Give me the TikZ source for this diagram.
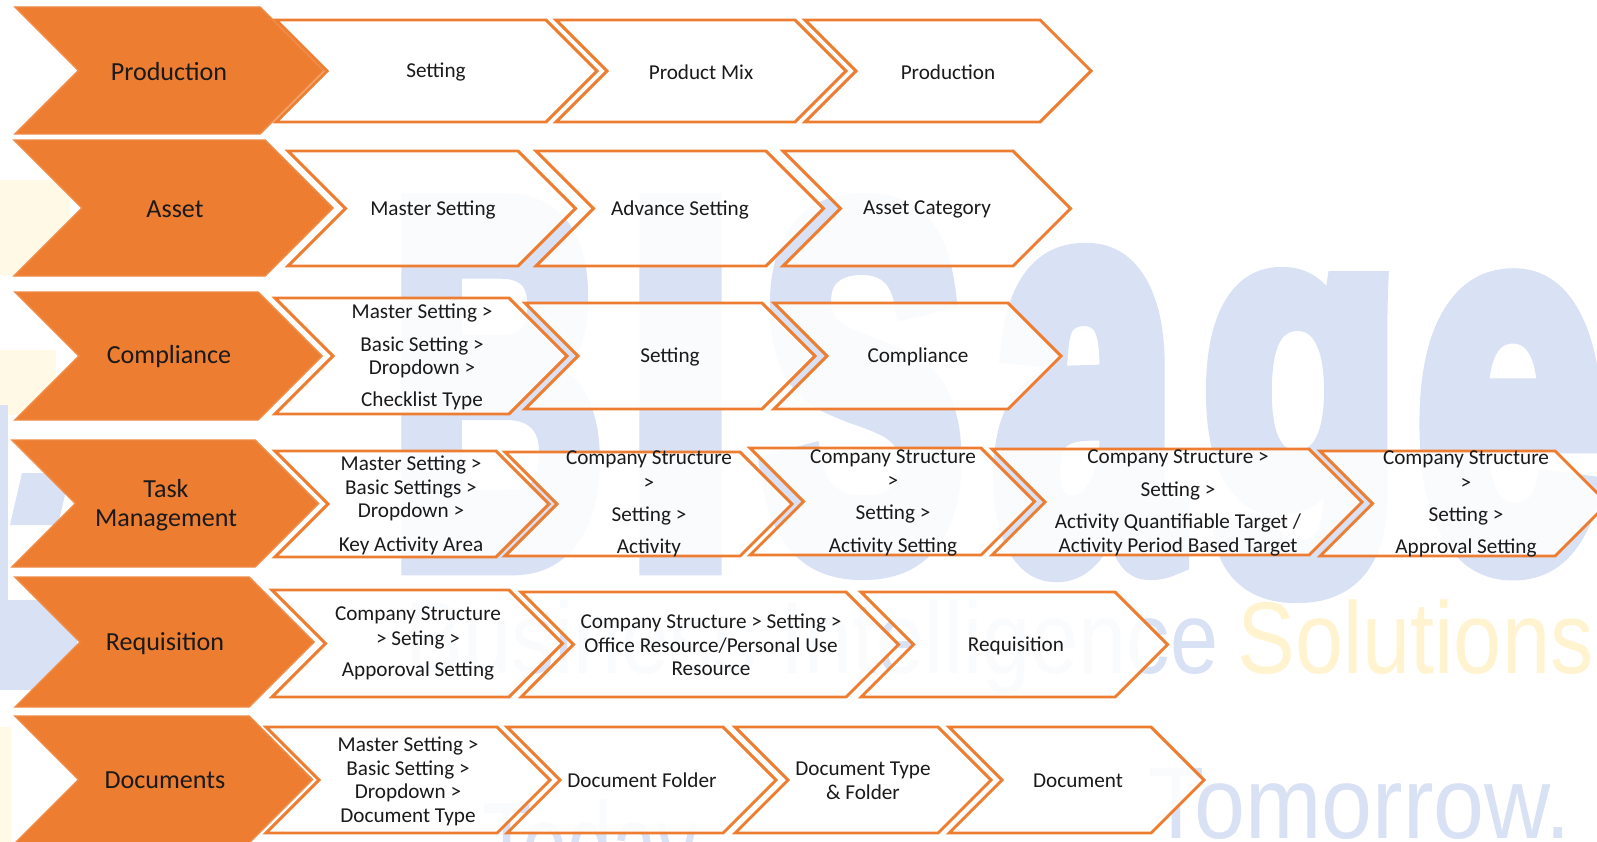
\documentclass[tikz,border=0pt]{standalone}
\usepackage{graphicx}
\usepackage{fontspec}
\setmainfont{Carlito}
\newfontfamily\wmfont{Liberation Sans}[BoldFeatures={FakeBold=6}]
\newfontfamily\wmthin{Liberation Sans}
\definecolor{acc}{HTML}{ED7D31}
\definecolor{accline}{HTML}{F08A45}
\definecolor{ink}{HTML}{1A1A1A}
\definecolor{wmblue}{HTML}{D9E1F5}
\definecolor{wmyellow}{HTML}{FFF3D0}
\definecolor{wmyellowlight}{HTML}{FFF9E6}
\newcommand\chevshape[6]{%
  \pgfmathsetmacro\chm{(#5+#6)/2}%
  \pgfmathsetmacro\chd{(#6-#5)/2}%
  \path[#1] (#3,#5) -- (#4,#5) -- ({#4+\chd},\chm) -- (#4,#6) -- (#3,#6) -- ({#3+\chd},\chm) -- cycle;
  \coordinate (#2) at ({(#3+#4)/2+\chd/2},\chm);
}
\begin{document}
\begin{tikzpicture}[x=0.49092pt,y=-0.49092pt,
  orangechev/.style={fill=acc, draw=accline, line width=0.7pt, line join=miter},
  whitechev/.style={fill=white, fill opacity=0.88, draw=acc, draw opacity=1, line width=1.4pt, line join=miter},
  lbl/.style={font=\fontsize{12.8}{14.3}\selectfont, text=ink, align=center, inner sep=0pt},
  txt/.style={font=\fontsize{10.4}{11.54}\selectfont, text=ink, align=center, inner sep=0pt},
  wm/.style={inner sep=0pt, text=wmblue, font=\wmfont\bfseries},
  wmline/.style={inner sep=0pt, font=\wmthin\fontsize{50}{50}\selectfont}]
\useasboundingbox (0,0) rectangle (1597,842);
\fill[white] (0,0) rectangle (1597,842);

% faint watermark: logo patches at the left edge
\fill[wmyellowlight] (0,180) rectangle (70,275);
\fill[wmyellowlight] (0,350) rectangle (56,415);
\fill[wmblue] (0,405) rectangle (8,600);
\fill[wmblue] (22,473) -- (70,473) -- (58,525) -- (10,525) -- cycle;
\fill[wmblue] (0,600) rectangle (77,690);
\fill[wmyellowlight] (0,727) rectangle (11,842);

% faint watermark: lettering
\node[wm, anchor=base west] (wmB) at (390,560) {\resizebox{105pt}{172.3pt}{B}};
\node[wm, anchor=base west] (wmI) at (624,560) {\resizebox{55pt}{172.3pt}{I}};
\node[wm, anchor=base west] (wmS) at (760,560) {\resizebox{100pt}{172.3pt}{S}};
\node[wm, anchor=base west] (wma) at (993,560) {\resizebox{90pt}{147.3pt}{a}};
\node[wm, anchor=north west] (wmg) at (1202,279) {\resizebox*{97pt}{152.7pt}{g}};
\node[wm, anchor=base west] (wme) at (1416,560) {\resizebox{92pt}{135.5pt}{e}};
\node[wmline, text=wmblue, anchor=base east] (wmbi) at (1219,673) {\scalebox{0.85}[1]{Business Intelligence}};
\node[wmline, text=wmyellow, anchor=base west] (wmsol) at (1237,673) {\scalebox{0.85}[1]{Solutions}};
\node[wmline, text=wmblue, anchor=base west, font=\wmthin\fontsize{61.8}{62}\selectfont] (wmtoday) at (482,890) {\scalebox{0.64}[1]{Today}};
\node[wmline, text=wmblue, anchor=base west] (wmtom) at (1148,838) {\scalebox{0.9}[1]{Tomorrow.}};

% Row 1: Production
\chevshape{orangechev}{r1o}{15}{260}{7}{134}
\chevshape{whitechev}{r1a}{276}{546}{20}{122}
\chevshape{whitechev}{r1b}{556}{795}{20}{122}
\chevshape{whitechev}{r1c}{805}{1040}{20}{122}
\node[lbl] (t1o) at (169,71.5) {Production};
\node[txt] (t1a) at (436,72) {Setting};
\node[txt] (t1b) at (701,72) {Product Mix};
\node[txt] (t1c) at (948,72) {Production};

% Row 2: Asset
\chevshape{orangechev}{r2o}{14}{265}{140}{276}
\chevshape{whitechev}{r2a}{288}{518}{151}{266}
\chevshape{whitechev}{r2b}{536}{766}{151}{266}
\chevshape{whitechev}{r2c}{783}{1013}{151}{266}
\node[lbl] (t2o) at (175,209.5) {Asset};
\node[txt] (t2a) at (433,209.5) {Master Setting};
\node[txt] (t2b) at (680,209.5) {Advance Setting};
\node[txt] (t2c) at (927,209.5) {Asset Category};

% Row 3: Compliance
\chevshape{orangechev}{r3o}{15}{258}{292}{420}
\chevshape{whitechev}{r3a}{275}{509}{298}{414}
\chevshape{whitechev}{r3b}{525}{762}{303}{409}
\chevshape{whitechev}{r3c}{774}{1008}{303}{409}
\node[lbl] (t3o) at (169,357) {Compliance};
\node[txt] (t3a) at (422,357) {Master Setting >\\[4.7pt] Basic Setting >\\ Dropdown >\\[4.2pt] Checklist Type};
\node[txt] (t3b) at (670,356.5) {Setting};
\node[txt] (t3c) at (918,356.5) {Compliance};

% Row 4: Task Management
\chevshape{orangechev}{r4o}{12}{255}{440}{567}
\chevshape{whitechev}{r4a}{275}{496}{451}{557}
\chevshape{whitechev}{r4b}{505}{740}{452}{556}
\chevshape{whitechev}{r4c}{750}{981}{448}{555}
\chevshape{whitechev}{r4d}{992}{1309}{449}{555}
\chevshape{whitechev}{r4e}{1320}{1555}{451}{556}
\node[lbl] (t4o) at (166,505) {Task\\Management};
\node[txt] (t4a) at (411,505) {Master Setting >\\[0.7pt] Basic Settings >\\[-0.7pt] Dropdown >\\[5.2pt] Key Activity Area};
\node[txt] (t4b) at (649,504) {Company Structure\\[0.7pt] >\\[4.2pt] Setting >\\[4.2pt] Activity};
\node[txt] (t4c) at (893,503) {Company Structure\\ >\\[4.2pt] Setting >\\[4.7pt] Activity Setting};
\node[txt] (t4d) at (1178,503) {Company Structure >\\[4.7pt] Setting >\\[4.2pt] Activity Quantifiable Target /\\ Activity Period Based Target};
\node[txt] (t4e) at (1466,504) {Company Structure\\[0.7pt] >\\[4.2pt] Setting >\\[4.2pt] Approval Setting};

% Row 5: Requisition
\chevshape{orangechev}{r5o}{15}{249}{577}{707}
\chevshape{whitechev}{r5a}{272}{509}{590}{697}
\chevshape{whitechev}{r5b}{521}{846}{592}{697}
\chevshape{whitechev}{r5c}{861}{1115}{592}{697}
\node[lbl] (t5o) at (165,643.5) {Requisition};
\node[txt] (t5a) at (418,643.5) {Company Structure\\[0.7pt] > Seting >\\[3.7pt] Apporoval Setting};
\node[txt] (t5b) at (711,645) {Company Structure > Setting >\\ Office Resource/Personal Use\\ Resource};
\node[txt] (t5c) at (1016,645.5) {Requisition};

% Row 6: Documents
\chevshape{orangechev}{r6o}{15}{249}{716}{843}
\chevshape{whitechev}{r6a}{266}{497}{727}{833}
\chevshape{whitechev}{r6b}{507}{723}{727}{833}
\chevshape{whitechev}{r6c}{735}{938}{727}{833}
\chevshape{whitechev}{r6d}{949}{1151}{727}{833}
\node[lbl] (t6o) at (165,780.5) {Documents};
\node[txt] (t6a) at (408,781.5) {Master Setting >\\ Basic Setting >\\ Dropdown >\\ Document Type};
\node[txt] (t6b) at (642,780.5) {Document Folder};
\node[txt] (t6c) at (863,781) {Document Type\\ \& Folder};
\node[txt] (t6d) at (1078,780.5) {Document};
\end{tikzpicture}
\end{document}
